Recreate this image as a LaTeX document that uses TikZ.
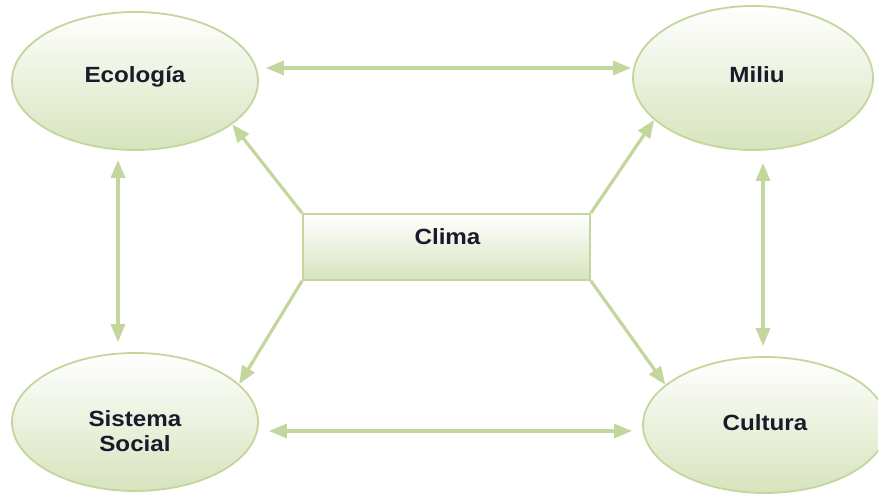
\documentclass[tikz,border=0pt]{standalone}
\usepackage{fontspec}
\setmainfont{Liberation Sans}[FakeStretch=1.1]
\usetikzlibrary{shapes.geometric,arrows.meta}
\definecolor{edge}{HTML}{C3D69B}
\definecolor{fillbot}{HTML}{D7E4BD}
\definecolor{txt}{HTML}{1A1A2A}
\tikzset{
  x=1pt, y=1pt,
  bubble/.style={ellipse, draw=edge, line width=1.8pt, top color=white, bottom color=fillbot, inner sep=0pt},
  centrebox/.style={rectangle, draw=edge, line width=1.8pt, top color=white, bottom color=fillbot,
    minimum width=287, minimum height=66, inner sep=0pt},
  tag/.style={anchor=base, inner sep=0pt, text=txt, font=\fontsize{22}{25}\selectfont\bfseries},
  tip/.style={Triangle[length=18pt,width=14pt]},
  link/.style={draw=edge, line width=3.2pt, -{Triangle[length=18pt,width=14pt]}},
  duplex/.style={draw=edge, line width=3.2pt, {Triangle[length=18pt,width=14pt]}-{Triangle[length=18pt,width=14pt]}}
}
\begin{document}
\begin{tikzpicture}
\useasboundingbox (0,0) rectangle (878,494);
% the four outer themes
\node[bubble, minimum width=246, minimum height=138] (eco) at (135,413) {};
\node[bubble, minimum width=240, minimum height=144] (miliu) at (753,416) {};
\node[bubble, minimum width=246, minimum height=138] (soc) at (135,72) {};
\node[bubble, minimum width=244, minimum height=136] (cul) at (765,69) {};
% central box
\node[centrebox] (clima) at (446.5,247) {};
% labels
\node[tag] (ecotxt) at (135,411) {Ecología};
\node[tag] (miliutxt) at (757,411) {Miliu};
\node[tag] (soctxt1) at (135,67) {Sistema};
\node[tag] (soctxt2) at (135,42) {Social};
\node[tag] (cultxt) at (765,63) {Cultura};
\node[tag] (climatxt) at (447.5,249) {Clima};
% two-way links between neighbouring themes
\draw[duplex] ([shift={(7,13)}]eco.east) -- ([shift={(-1,10)}]miliu.west);
\draw[duplex] ([shift={(-17,-9)}]eco.south) -- ([shift={(-17,10)}]soc.north);
\draw[duplex] ([shift={(10,-12)}]miliu.south) -- ([shift={(-2,10)}]cul.north);
\draw[duplex] ([shift={(10,-9)}]soc.east) -- ([shift={(-10,-6)}]cul.west);
% Clima acts on every theme
\draw[link] (clima.north west) -- (eco.-24);
\draw[link] (clima.north east) -- (miliu.203);
\draw[link] (clima.south west) -- (soc.20);
\draw[link] (clima.south east) -- (cul.158);
\end{tikzpicture}
\end{document}
